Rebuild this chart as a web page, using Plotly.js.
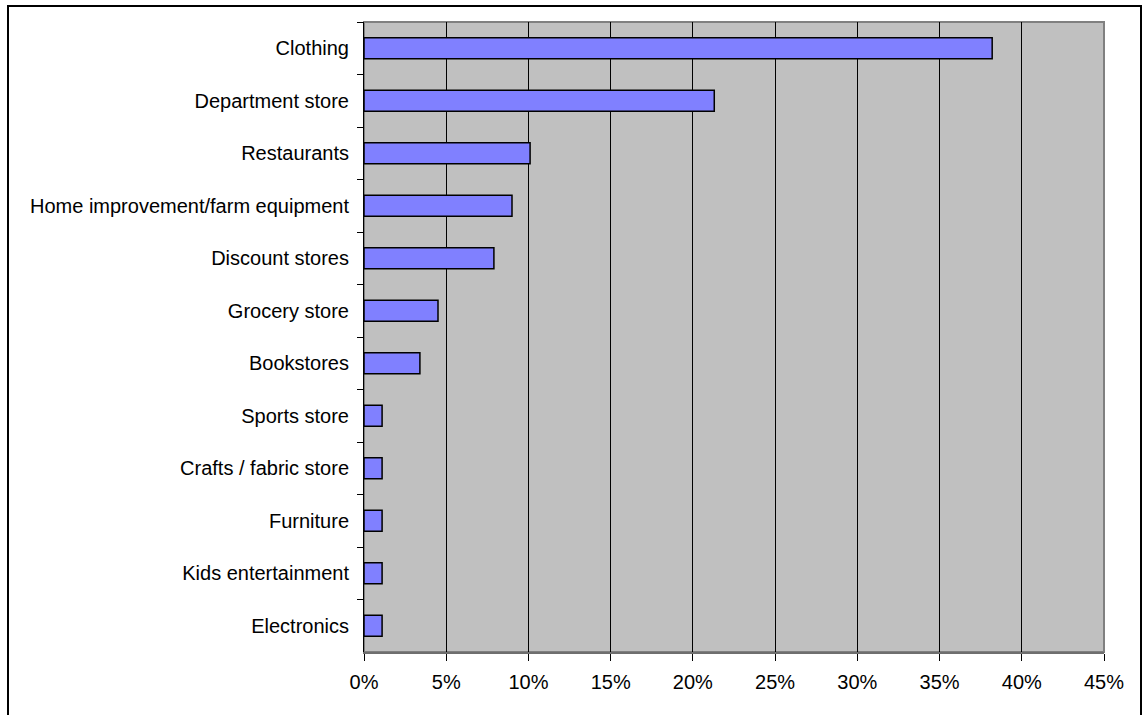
<!DOCTYPE html>
<html>
<head>
<meta charset="utf-8">
<script src="https://cdn.plot.ly/plotly-3.0.1.min.js"></script>
<style>
  html, body { margin: 0; padding: 0; background: #ffffff; }
  #chart { width: 1142px; height: 715px; }
</style>
</head>
<body>
<div id="chart"></div>
<script>
const categories = [
  "Clothing",
  "Department store",
  "Restaurants",
  "Home improvement/farm equipment",
  "Discount stores",
  "Grocery store",
  "Bookstores",
  "Sports store",
  "Crafts / fabric store",
  "Furniture",
  "Kids entertainment",
  "Electronics"
];
const shares = [38.2, 21.3, 10.1, 9.0, 7.9, 4.5, 3.4, 1.1, 1.1, 1.1, 1.1, 1.1];
const xTickValues = [0, 5, 10, 15, 20, 25, 30, 35, 40, 45];
const xTickLabels = ["0%", "5%", "10%", "15%", "20%", "25%", "30%", "35%", "40%", "45%"];

const FONT = "Liberation Sans, Arial, sans-serif";

const trace = {
  type: "bar",
  orientation: "h",
  x: shares,
  y: categories,
  width: 0.4,
  marker: { color: "#8080FF", line: { color: "#000000", width: 1.5 } },
  hoverinfo: "x+y"
};

const L = 364, R = 1104, T = 22, B = 652, W = 1142, H = 715;
const pw = R - L, ph = B - T;

const layout = {
  width: W,
  height: H,
  margin: { l: L, r: W - R, t: T, b: H - B, pad: 0 },
  paper_bgcolor: "#ffffff",
  plot_bgcolor: "#C0C0C0",
  showlegend: false,
  bargap: 0.6,
  font: { family: FONT, size: 20, color: "#000000" },
  xaxis: {
    range: [0, 45],
    tickvals: xTickValues,
    ticktext: xTickLabels,
    showgrid: true,
    gridcolor: "#000000",
    gridwidth: 1,
    zeroline: false,
    showline: true,
    linecolor: "#6e6e6e",
    linewidth: 2,
    ticks: "outside",
    ticklen: 7,
    tickcolor: "#000000",
    tickwidth: 1,
    ticklabelstandoff: 4,
    tickfont: { family: FONT, size: 20, color: "#000000" },
    fixedrange: true
  },
  yaxis: {
    type: "category",
    categoryorder: "array",
    categoryarray: categories,
    autorange: "reversed",
    showgrid: false,
    zeroline: false,
    showline: true,
    linecolor: "#000000",
    linewidth: 1,
    ticks: "outside",
    tickson: "boundaries",
    ticklen: 6,
    tickcolor: "#000000",
    tickwidth: 1,
    ticklabelstandoff: 10,
    tickfont: { family: FONT, size: 20, color: "#000000" },
    fixedrange: true
  },
  shapes: [
    {
      type: "rect", xref: "paper", yref: "paper",
      x0: 0, x1: 1, y0: 0, y1: 1,
      line: { color: "#808080", width: 2 },
      layer: "below"
    },
    {
      type: "rect", xref: "paper", yref: "paper",
      x0: (8 - L) / pw, x1: (1141 - L) / pw,
      y0: (B - 718) / ph, y1: (B - 6) / ph,
      line: { color: "#000000", width: 2 }
    }
  ]
};

Plotly.newPlot("chart", [trace], layout, { displayModeBar: false, staticPlot: true });
</script>
</body>
</html>
